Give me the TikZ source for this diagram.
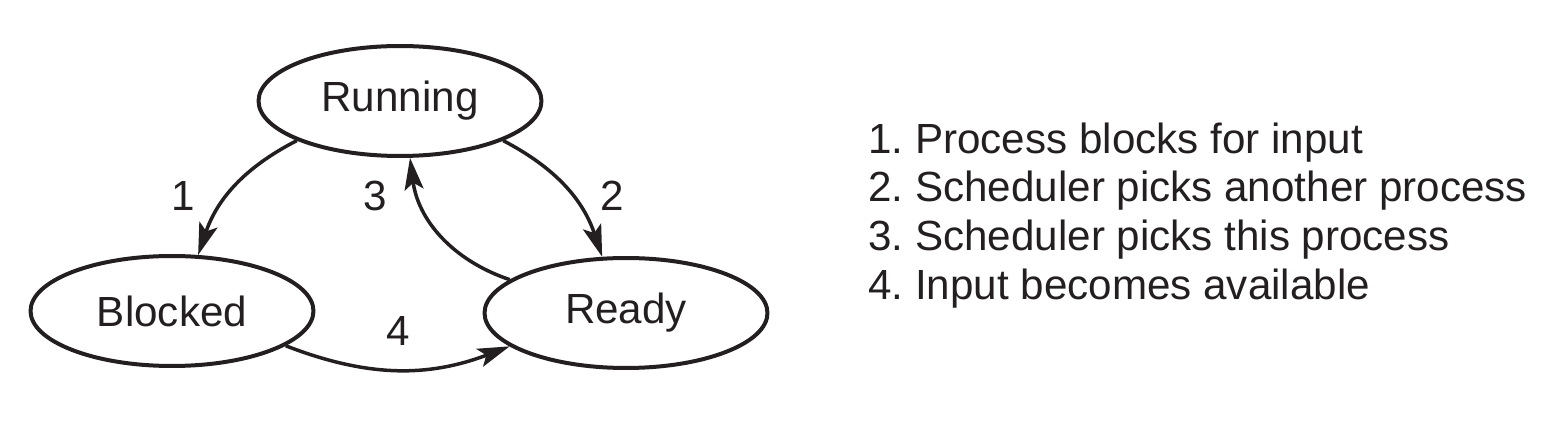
\documentclass[tikz,border=0pt]{standalone}
\usepackage{fontspec}
\setmainfont{Liberation Sans}
\usetikzlibrary{shapes.geometric,arrows.meta}
\definecolor{ink}{HTML}{231F20}
\frenchspacing
\begin{document}
\begin{tikzpicture}[x=0.02cm,y=-0.02cm,
  every node/.style={text=ink,font=\fontsize{24}{27.2}\selectfont},
  state/.style={ellipse,draw=ink,line width=0.08cm,minimum width=5.66cm,minimum height=2.2cm,inner sep=0pt},
  conn/.style={draw=ink,line width=0.07cm,-{Stealth[length=0.64cm,width=0.38cm,inset=0.14cm]}},
  lbl/.style={inner sep=0pt},
  legend/.style={anchor=base west,inner sep=0pt}]
\useasboundingbox (0,0) rectangle (1568,422);
\node[state] (run) at (400,101) {Running};
\node[state] (blk) at (172,311) {Blocked};
\node[state] (rdy) at (626,313) {Ready};
\draw[conn] (run.201) to[bend right=22] (blk.65);
\draw[conn] (run.339) to[bend left=22] (rdy.113);
\draw[conn] (rdy.164) to[bend left=32] (run.280);
\draw[conn] (blk.343) to[bend right=21] (rdy.196);
\node[lbl] (l1) at (183,196) {1};
\node[lbl] (l3) at (375,196) {3};
\node[lbl] (l2) at (612,196) {2};
\node[lbl] (l4) at (398,331) {4};
\node[legend] (t1) at (868,154) {\frenchspacing 1. Process blocks for input};
\node[legend] (t2) at (868,202) {\frenchspacing 2. Scheduler picks another process};
\node[legend] (t3) at (868,251) {\frenchspacing 3. Scheduler picks this process};
\node[legend] (t4) at (868,299) {\frenchspacing 4. Input becomes available};
\end{tikzpicture}
\end{document}
